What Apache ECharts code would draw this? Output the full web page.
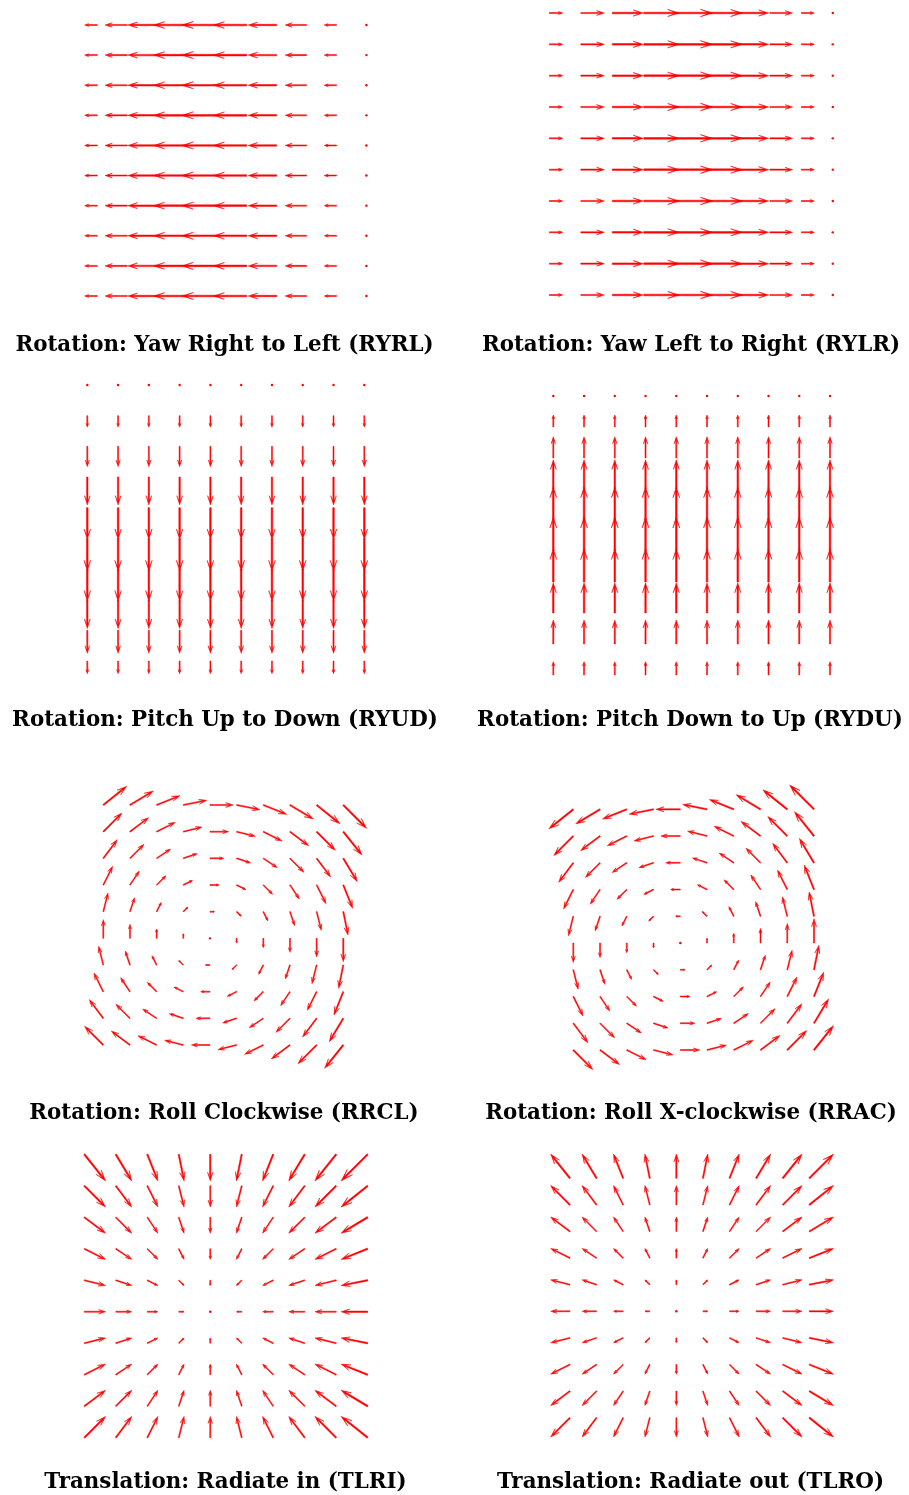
<!DOCTYPE html>
<html>
<head>
<meta charset="utf-8">
<script src="https://cdn.jsdelivr.net/npm/echarts@6/dist/echarts.min.js"></script>
<style>
  html, body { margin: 0; padding: 0; background: #ffffff; }
  #chart { width: 909px; height: 1495px; }
</style>
</head>
<body>
<div id="chart"></div>
<script>
// ---- Flow-field values (10 x 10 sample grid per panel) ----
// Column index runs left -> right, row index runs bottom -> top.

// Yaw: horizontal flow per column, the same for every row
const yawRightToLeftU = [-0.36, -0.63, -0.83, -0.95, -1.0, -0.95, -0.81, -0.61, -0.35, 0.0];
const yawLeftToRightU = [0.36, 0.63, 0.83, 0.95, 1.0, 0.95, 0.81, 0.61, 0.35, 0.0];

// Pitch: vertical flow per row, the same for every column
const pitchUpToDownV = [-0.39, -0.70, -0.88, -0.98, -1.0, -0.97, -0.85, -0.62, -0.35, 0.0];
const pitchDownToUpV = [0.39, 0.70, 0.88, 0.98, 1.0, 0.97, 0.85, 0.62, 0.35, 0.0];

// No flow along one component
const still = [0, 0, 0, 0, 0, 0, 0, 0, 0, 0];

// Roll clockwise: u set by row, v set by column
const rollCwURow = [-4, -3, -2, -1, 0, 1, 2, 3, 4, 5];
const rollCwVCol = [4, 3, 2, 1, 0, -1, -2, -3, -4, -5];

// Roll anticlockwise: u set by row, v set by column
const rollAcURow = [4, 3, 2, 1, 0, -1, -2, -3, -4, -5];
const rollAcVCol = [-4, -3, -2, -1, 0, 1, 2, 3, 4, 5];

// Radiate in: u set by column, v set by row
const radInUCol = [4, 3, 2, 1, 0, -1, -2, -3, -4, -5];
const radInVRow = [4, 3, 2, 1, 0, -1, -2, -3, -4, -5];

// Radiate out: u set by column, v set by row
const radOutUCol = [-4, -3, -2, -1, 0, 1, 2, 3, 4, 5];
const radOutVRow = [-4, -3, -2, -1, 0, 1, 2, 3, 4, 5];

const panelTitles = [
  'Rotation: Yaw Right to Left (RYRL)',
  'Rotation: Yaw Left to Right (RYLR)',
  'Rotation: Pitch Up to Down (RYUD)',
  'Rotation: Pitch Down to Up (RYDU)',
  'Rotation: Roll Clockwise (RRCL)',
  'Rotation: Roll X-clockwise (RRAC)',
  'Translation: Radiate in (TLRI)',
  'Translation: Radiate out (TLRO)'
];

// ---- Panel layout: pixel box of the sample grid, arrow scale in grid units ----
const panels = [
  { u: { by: 'col', v: yawRightToLeftU }, v: { by: 'row', v: still }, x0: 97.3, x9: 366.4, yTop: 25, yBot: 296, k: 1.177 },
  { u: { by: 'col', v: yawLeftToRightU }, v: { by: 'row', v: still }, x0: 549.3, x9: 832.8, yTop: 13, yBot: 295, k: 1.187 },
  { u: { by: 'col', v: still }, v: { by: 'row', v: pitchUpToDownV }, x0: 87.3, x9: 364.3, yTop: 385, yBot: 661, k: 1.07 },
  { u: { by: 'col', v: still }, v: { by: 'row', v: pitchDownToUpV }, x0: 553.3, x9: 830, yTop: 396, yBot: 675, k: 1.106 },
  { u: { by: 'row', v: rollCwURow }, v: { by: 'col', v: rollCwVCol }, x0: 103.3, x9: 343.3, yTop: 805, yBot: 1045, k: 0.175 },
  { u: { by: 'row', v: rollAcURow }, v: { by: 'col', v: rollAcVCol }, x0: 573.3, x9: 814, yTop: 809.3, yBot: 1050, k: 0.182 },
  { u: { by: 'col', v: radInUCol }, v: { by: 'row', v: radInVRow }, x0: 84.3, x9: 367.7, yTop: 1154.3, yBot: 1437.7, k: 0.169 },
  { u: { by: 'col', v: radOutUCol }, v: { by: 'row', v: radOutVRow }, x0: 570, x9: 809.3, yTop: 1178.3, yBot: 1417.7, k: 0.182 }
];

const titlePos = [
  { cx: 224.5, cy: 346 }, { cx: 691, cy: 346 },
  { cx: 225, cy: 721 }, { cx: 690, cy: 721 },
  { cx: 224, cy: 1114 }, { cx: 691, cy: 1114 },
  { cx: 225.5, cy: 1483 }, { cx: 690.5, cy: 1483 }
];

const RED = '#ff0000';
const TITLE_SIZE = 21.4;

function pick(spec, i, j) {
  return spec.by === 'col' ? spec.v[i] : spec.v[j];
}

function buildField(p) {
  const rows = [];
  for (let j = 0; j < 10; j++) {
    for (let i = 0; i < 10; i++) {
      rows.push([i, j, pick(p.u, i, j), pick(p.v, i, j)]);
    }
  }
  return rows;
}

// Quiver-style arrow: shaft plus notched head, head scaled with arrow length
function arrowRenderer(k) {
  return function (params, api) {
    const i = api.value(0), j = api.value(1);
    const u = api.value(2), v = api.value(3);
    const p0 = api.coord([i, j]);
    const p1 = api.coord([i + u * k, j + v * k]);
    const dx = p1[0] - p0[0], dy = p1[1] - p0[1];
    const L = Math.hypot(dx, dy);
    if (L < 0.5) {
      return {
        type: 'circle',
        shape: { cx: p0[0], cy: p0[1], r: 1.2 },
        style: { fill: RED }
      };
    }
    const ux = dx / L, uy = dy / L;
    const nx = -uy, ny = ux;
    const hl = 0.33 * L;          // head length
    const hw = 0.1 * L;           // half head width
    const ha = 0.14 * L;          // head axis length (notch)
    const w = Math.max(0.5, Math.min(0.8, 0.025 * L)); // half shaft width
    const P = (a, b) => [p0[0] + ux * a + nx * b, p0[1] + uy * a + ny * b];
    return {
      type: 'polygon',
      shape: {
        points: [
          P(0, -w), P(L - ha, -w), P(L - hl, -hw), P(L, 0),
          P(L - hl, hw), P(L - ha, w), P(0, w)
        ]
      },
      style: { fill: RED, stroke: RED, lineWidth: 0.5, lineJoin: 'miter' }
    };
  };
}

const grids = [], xAxes = [], yAxes = [], series = [], titles = [];
panels.forEach((p, idx) => {
  grids.push({
    left: p.x0, top: p.yTop,
    width: p.x9 - p.x0, height: p.yBot - p.yTop,
    show: false, containLabel: false
  });
  xAxes.push({ type: 'value', gridIndex: idx, min: 0, max: 9, show: false });
  yAxes.push({ type: 'value', gridIndex: idx, min: 0, max: 9, show: false });
  series.push({
    type: 'custom',
    xAxisIndex: idx, yAxisIndex: idx,
    coordinateSystem: 'cartesian2d',
    clip: false,
    silent: true,
    encode: { x: 0, y: 1 },
    renderItem: arrowRenderer(p.k),
    data: buildField(p)
  });
  titles.push({
    text: panelTitles[idx],
    left: titlePos[idx].cx,
    top: titlePos[idx].cy - TITLE_SIZE * 0.62,
    textAlign: 'center',
    padding: 0,
    textStyle: {
      fontFamily: 'DejaVu Serif',
      fontWeight: 'bold',
      fontSize: TITLE_SIZE,
      lineHeight: TITLE_SIZE * 1.2,
      color: '#000000'
    }
  });
});

const chart = echarts.init(document.getElementById('chart'), null, { renderer: 'canvas' });
chart.setOption({
  backgroundColor: '#ffffff',
  animation: false,
  title: titles,
  grid: grids,
  xAxis: xAxes,
  yAxis: yAxes,
  series: series
});
</script>
</body>
</html>
